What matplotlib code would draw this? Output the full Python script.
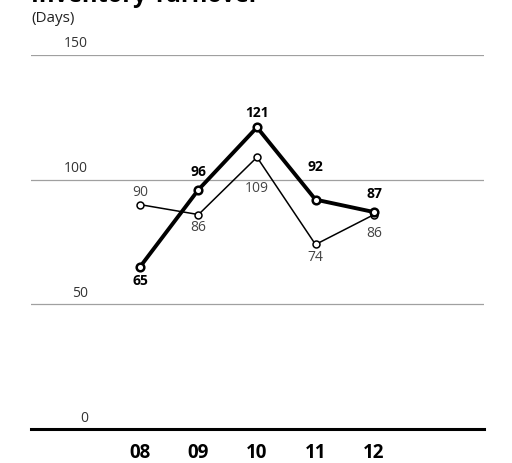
import matplotlib
matplotlib.use('Agg')
import matplotlib.pyplot as plt

plt.rcParams['font.family'] = ['Open Sans', 'DejaVu Sans']

years = ["08", "09", "10", "11", "12"]
bold_series = [65, 96, 121, 92, 87]
thin_series = [90, 86, 109, 74, 86]
y_ticks = [0, 50, 100, 150]

# vertical label offsets in pixels (positive = above the point)
bold_off = [-14, 18, 14, 33, 18]
thin_off = [12, -13, -31, -13, -19]

fig = plt.figure(figsize=(5.12, 4.63), dpi=100)
ax = fig.add_axes([31 / 512, 34 / 463, 453 / 512, 374 / 463])
x = list(range(len(years)))
px = 0.72  # points per pixel at dpi 100

ax.set_xlim(-1.863, 5.88)
ax.set_ylim(0, 150)

for v in y_ticks[1:]:
    ax.axhline(v, color='#a0a0a0', lw=0.9, zorder=1)
ax.axhline(0, color='black', lw=2.2, zorder=1, clip_on=False)
for v in y_ticks:
    ax.annotate(str(v), xy=(-0.89, v), xytext=(0, 11 * px), textcoords='offset points',
                ha='right', va='center', fontsize=10, color='#333333')

ax.plot(x, thin_series, color='black', lw=1.1, marker='o', ms=5,
        mfc='white', mec='black', mew=1.1, zorder=3)
ax.plot(x, bold_series, color='black', lw=2.8, marker='o', ms=5.5,
        mfc='white', mec='black', mew=1.8, zorder=4)

for xi, v, o in zip(x, bold_series, bold_off):
    ax.annotate(str(v), xy=(xi, v), xytext=(0, o * px), textcoords='offset points',
                ha='center', va='center', fontsize=10, fontweight='bold', color='black')
for xi, v, o in zip(x, thin_series, thin_off):
    ax.annotate(str(v), xy=(xi, v), xytext=(0, o * px), textcoords='offset points',
                ha='center', va='center', fontsize=10, color='#444444')

ax.set_xticks(x)
ax.set_xticklabels(years, fontsize=13.5, fontweight='bold')
ax.tick_params(axis='x', length=0, pad=10)
ax.set_yticks([])
for s in ax.spines.values():
    s.set_visible(False)

fig.text(31 / 512, 1 - 2 / 463, "Inventory Turnover", fontsize=17, fontweight='bold',
         ha='left', va='baseline')
fig.text(31 / 512, 1 - 19 / 463, "(Days)", fontsize=11, ha='left', va='center', color='#222222')

fig.savefig('out.png', dpi=100)
